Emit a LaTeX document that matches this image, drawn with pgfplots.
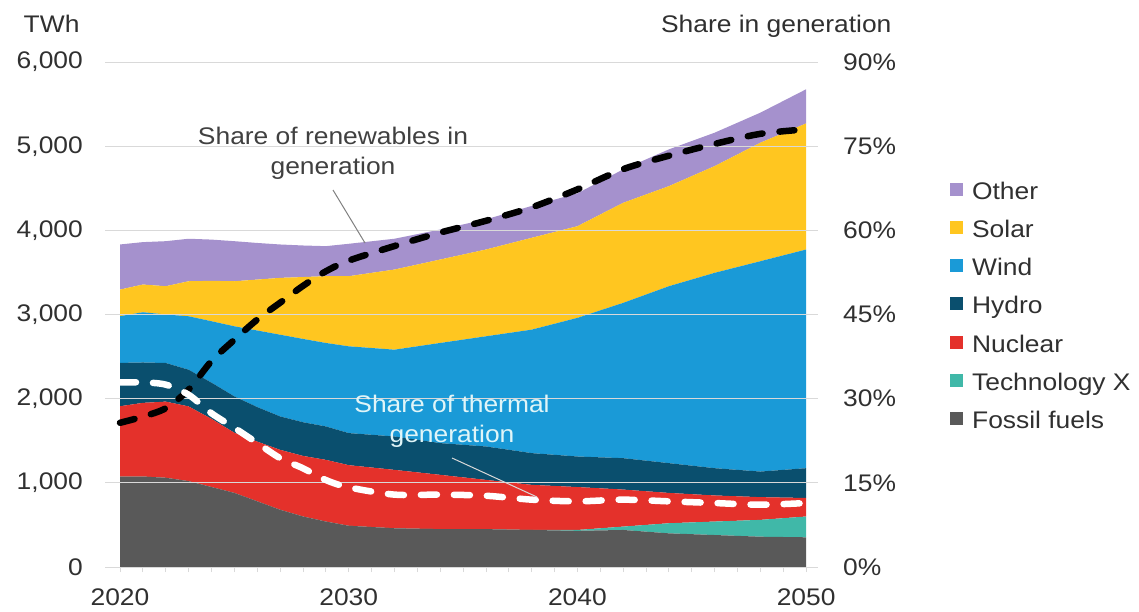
\documentclass[border=0pt]{standalone}
\usepackage{pgfplots}
\usepackage{pgfplotstable}
\pgfplotsset{compat=1.18}
\usepackage{fontspec}
\setmainfont{Liberation Sans}[FakeStretch=1.1]

\definecolor{cother}{HTML}{A591CD}
\definecolor{csolar}{HTML}{FFC620}
\definecolor{cwind}{HTML}{1A9AD7}
\definecolor{chydro}{HTML}{0A4F6E}
\definecolor{cnuclear}{HTML}{E4312B}
\definecolor{ctechx}{HTML}{40B8A8}
\definecolor{cfossil}{HTML}{595959}
\definecolor{gridgray}{HTML}{D9D9D9}
\definecolor{labelgray}{HTML}{303030}
\definecolor{annotgray}{HTML}{404040}
\definecolor{thermtext}{HTML}{E0F5F8}

\newcommand\lbl{\fontsize{24}{30}\selectfont}

% generation by source, TWh
\pgfplotstableread{
year fossil techx nuclear hydro wind solar other
2020 1075 0   835 515 555  316  536
2021 1075 0   875 480 597  329  504
2022 1060 0   905 459 576  336  535
2023 1020 0   888 436 635  416  505
2024 950  0   810 430 730  480  490
2025 880  0   715 432 833  535  476
2026 780  0   710 410 910  605  435
2027 680  0   712 397 971  675  397
2028 600  0   720 400 990  735  375
2029 540  0   733 397 992  793  357
2030 490  0   720 381 1031 833  385
2032 460  0   694 397 1031 952  366
2034 450  0   645 377 1190 991  357
2036 450  0   585 397 1309 1031 358
2038 440  0   536 377 1467 1091 379
2040 430  10  510 363 1647 1089 391
2042 440  40  440 373 1845 1189 397
2044 400  120 360 354 2102 1189 437
2046 380  160 310 324 2321 1268 397
2048 360  200 270 304 2499 1408 357
2050 353  247 220 354 2598 1498 406
}\gen

% shares in generation, percent
\pgfplotstableread{
year renew thermal
2020 25.7 32.9
2021 26.8 32.9
2022 28.3 32.5
2023 31.6 30.7
2024 36.7 27.4
2025 40.5 24.8
2026 44.1 22.1
2027 47.1 19.4
2028 50.1 17.6
2029 52.7 15.5
2030 54.6 14.2
2032 57.2 12.9
2034 59.6 12.9
2036 61.7 12.7
2038 64.1 12.0
2040 67.3 11.7
2042 70.9 12.0
2044 73.3 11.7
2046 75.4 11.4
2048 77.2 11.1
2050 78.0 11.4
}\share

\begin{document}
\begin{tikzpicture}[x=1pt,y=1pt]
\path[use as bounding box] (0,0) rectangle (1139,611);

\begin{axis}[
    at={(105pt,44pt)}, anchor=south west,
    scale only axis, width=713pt, height=505pt,
    xmin=2019.344, xmax=2050.52,
    ymin=0, ymax=6000,
    axis x line*=bottom, axis y line*=left,
    y axis line style={draw=none},
    x axis line style={draw=gridgray, line width=1pt},
    xtick={2020,2030,2040,2050},
    minor x tick num=9,
    ytick={0,1000,...,6000},
    ymajorgrids,
    major grid style={draw=gridgray, line width=1pt},
    tick align=outside,
    major tick length=5pt, minor tick length=5pt,
    x tick style={draw=gridgray, line width=0.8pt},
    y tick style={draw=none},
    tick label style={font=\lbl, text=labelgray, inner sep=0pt},
    /pgf/number format/assume math mode=true,
    /pgf/number format/1000 sep={,},
    x tick label style={/pgf/number format/1000 sep={}, anchor=north, yshift=-17pt},
    y tick label style={anchor=east, xshift=-17pt},
    stack plots=y, area style,
    reverse legend,
    legend cell align=left,
    legend image code/.code={\fill[#1] (0pt,-3pt) rectangle (13pt,10pt);},
    legend style={at={(1.185,0.766)}, anchor=north west, draw=none, fill=none,
        inner sep=0pt, font=\lbl, text=labelgray, row sep=13.2pt,
        nodes={inner sep=0pt, text height=19pt, text depth=6pt},
        /tikz/every odd column/.append style={column sep=9pt}},
]
\addplot[fill=cfossil, draw=none] table[x=year, y=fossil]{\gen} \closedcycle;
\addlegendentry{Fossil fuels}
\addplot[fill=ctechx, draw=none] table[x=year, y=techx]{\gen} \closedcycle;
\addlegendentry{Technology X}
\addplot[fill=cnuclear, draw=none] table[x=year, y=nuclear]{\gen} \closedcycle;
\addlegendentry{Nuclear}
\addplot[fill=chydro, draw=none] table[x=year, y=hydro]{\gen} \closedcycle;
\addlegendentry{Hydro}
\addplot[fill=cwind, draw=none] table[x=year, y=wind]{\gen} \closedcycle;
\addlegendentry{Wind}
\addplot[fill=csolar, draw=none] table[x=year, y=solar]{\gen} \closedcycle;
\addlegendentry{Solar}
\addplot[fill=cother, draw=none] table[x=year, y=other]{\gen} \closedcycle;
\addlegendentry{Other}
\end{axis}

\begin{axis}[
    at={(105pt,44pt)}, anchor=south west,
    scale only axis, width=713pt, height=505pt,
    xmin=2019.344, xmax=2050.52,
    ymin=0, ymax=90,
    axis x line=none, axis y line*=right,
    y axis line style={draw=none},
    ytick={0,15,...,90},
    y tick style={draw=none},
    major tick length=0pt,
    tick label style={font=\lbl, text=labelgray, inner sep=0pt},
    /pgf/number format/assume math mode=true,
    yticklabel={\pgfmathprintnumber{\tick}\%},
    y tick label style={anchor=west, xshift=25pt},
]
\addplot[black, line width=6.5pt, line cap=round, dash pattern=on 15pt off 17pt, smooth] table[x=year, y=renew]{\share};
\addplot[white, line width=6.5pt, line cap=round, dash pattern=on 16pt off 17pt, smooth] table[x=year, y=thermal]{\share};
\end{axis}

\begin{scope}[yshift=611pt, y=-1pt]
\node[font=\lbl, text=labelgray, anchor=base east] at (83,33) {TWh};
\node[font=\lbl, text=labelgray, anchor=base east] at (895,33) {Share in generation};
\node[font=\lbl, text=annotgray, align=center] at (333,153) {Share of renewables in\\generation};
\draw[gray, line width=1pt] (333,190) -- (365,243);
\node[font=\lbl, text=thermtext, align=center] at (452,421) {Share of thermal\\generation};
\draw[gridgray, line width=1pt] (452,458) -- (537,497);
\end{scope}
\end{tikzpicture}
\end{document}
